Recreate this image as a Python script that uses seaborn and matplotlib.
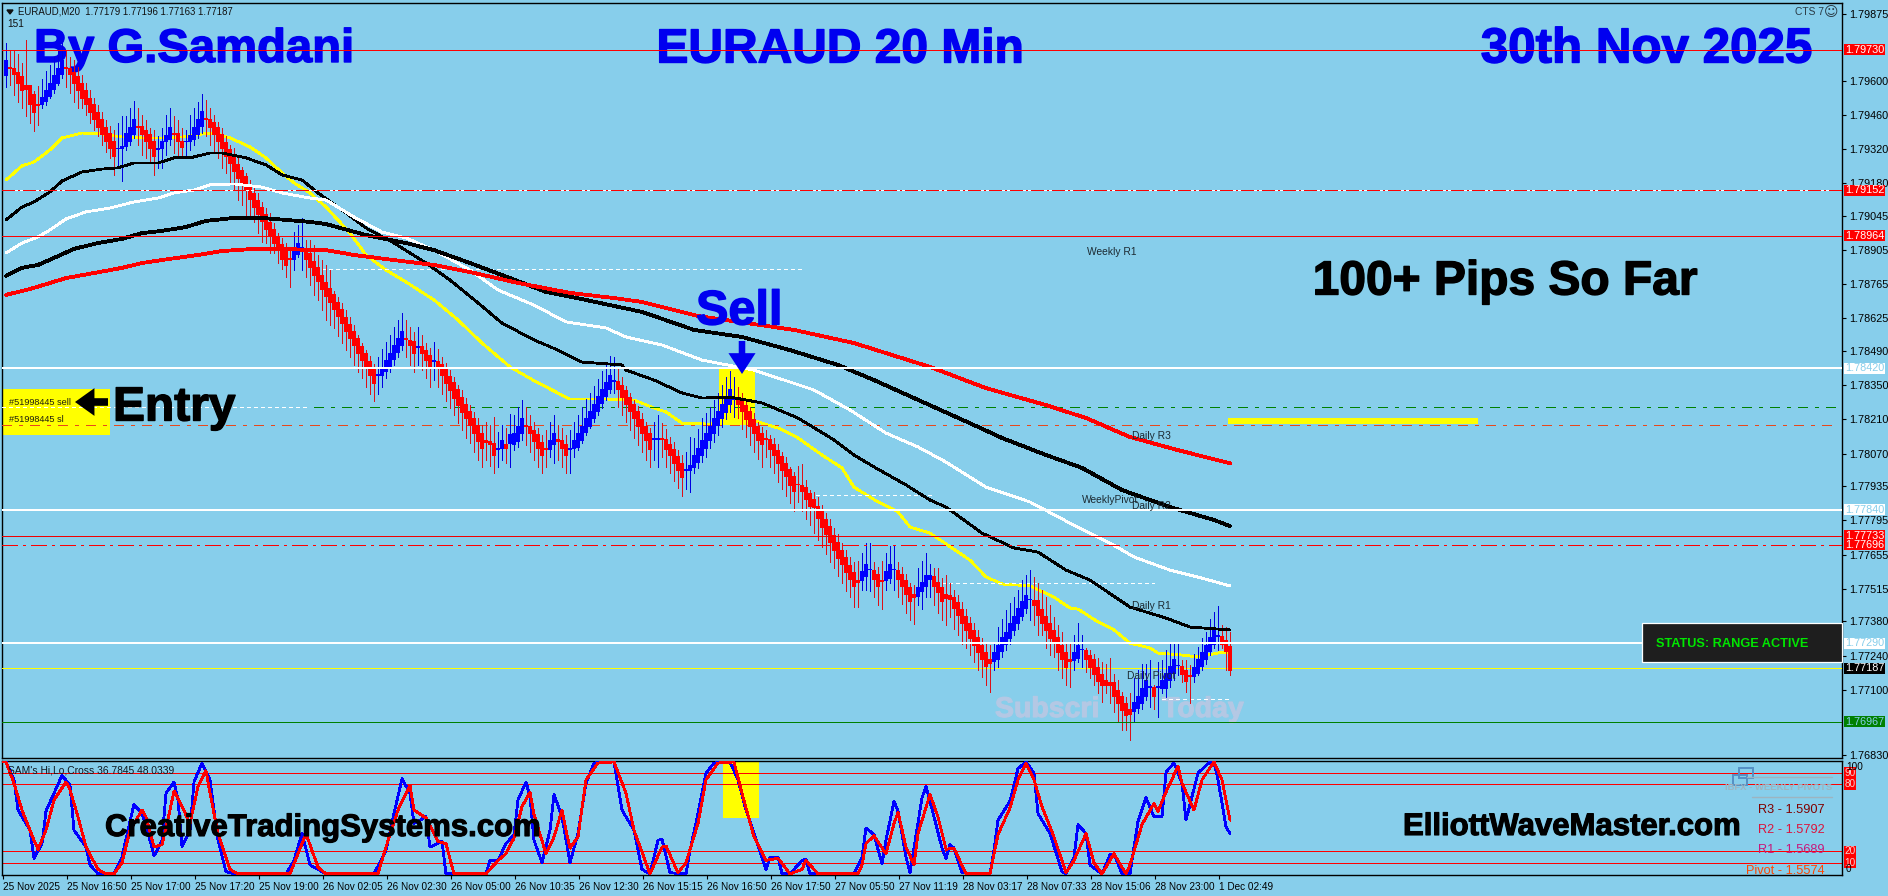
import numpy as np
import pandas as pd
import matplotlib
matplotlib.use("Agg")
import matplotlib.pyplot as plt
import matplotlib.patheffects as pe
from matplotlib.patches import Rectangle
import seaborn as sns

W, H = 1888, 896
SKY = "#87CEEB"
BASE = 1.76  # candle and average values below are points above this price

bar_open = [
    3622,3655,3653,3637,3619,3581,3581,3544,3506,3503, 3516,3537,3564,3592,3626,3655,3653,3637,3619,3592,
    3562,3530,3503,3473,3444,3411,3384,3352,3322,3325, 3331,3352,3379,3416,3413,3400,3380,3352,3320,3322,
    3352,3359,3386,3384,3352,3350,3352,3359,3379,3414, 3446,3444,3430,3410,3382,3350,3320,3289,3259,3234,
    3209,3172,3141,3111,3083,3052,3022,2991,2963,2928, 2904,2870,2868,2886,2913,2914,2893,2860,2835,2802,
    2773,2749,2723,2693,2662,2631,2602,2573,2542,2510, 2481,2450,2418,2390,2390,2406,2427,2454,2485,2513,
    2544,2534,2530,2507,2512,2496,2475,2449,2450,2437, 2420,2389,2363,2334,2301,2272,2242,2215,2185,2153,
    2125,2119,2112,2087,2089,2109,2109,2105,2119,2153, 2185,2183,2165,2150,2115,2091,2085,2105,2128,2126,
    2109,2087,2089,2093,2123,2155,2182,2214,2244,2274, 2303,2333,2366,2365,2351,2328,2301,2272,2244,2212,
    2183,2153,2127,2127,2131,2129,2109,2088,2060,2029, 2000,2000,2012,2032,2061,2091,2123,2153,2183,2212,
    2238,2272,2293,2297,2290,2269,2242,2212,2183,2153, 2131,2129,2109,2084,2060,2029,2005,1975,1945,1940,
    1931,1906,1881,1854,1831,1801,1769,1735,1703,1673, 1643,1612,1580,1550,1547,1564,1592,1591,1575,1549,
    1547,1557,1592,1591,1575,1550,1520,1492,1484,1502, 1522,1550,1564,1539,1522,1492,1488,1479,1457,1431,
    1402,1372,1342,1314,1283,1255,1224,1214,1224,1255, 1283,1310,1342,1372,1399,1431,1468,1465,1465,1431,
    1402,1372,1344,1314,1283,1251,1226,1218,1228,1263, 1262,1242,1224,1191,1163,1136,1131,1128,1098,1073,
    1043,1020,1009,1022,1043,1073,1109,1109,1109,1105, 1105,1136,1166,1197,1196,1180,1159,1152,1166,1196,
    1224,1255,1283,1318,1320,1303,1279,
]
bar_close = [
    3685,3651,3626,3592,3562,3564,3503,3471,3500,3533, 3564,3592,3626,3653,3685,3651,3626,3592,3562,3530,
    3503,3471,3444,3411,3379,3352,3322,3290,3326,3331, 3384,3411,3444,3410,3379,3352,3322,3290,3324,3352,
    3379,3411,3381,3352,3327,3354,3379,3411,3444,3475, 3441,3411,3379,3352,3322,3290,3260,3229,3199,3174,
    3149,3112,3081,3051,3023,2992,2962,2931,2903,2868, 2844,2866,2907,2934,2917,2868,2833,2800,2775,2742,
    2713,2689,2663,2633,2602,2571,2542,2513,2482,2450, 2421,2390,2358,2394,2417,2454,2482,2516,2543,2574,
    2540,2513,2482,2511,2482,2452,2422,2453,2424,2390, 2358,2328,2297,2265,2239,2212,2185,2150,2119,2089,
    2115,2108,2060,2091,2126,2089,2150,2153,2183,2215, 2181,2150,2119,2089,2060,2087,2126,2153,2119,2089,
    2060,2091,2126,2153,2183,2215,2242,2274,2304,2334, 2363,2393,2370,2331,2301,2269,2242,2212,2180,2150,
    2123,2088,2131,2131,2127,2088,2061,2029,1999,1970, 2004,2023,2061,2091,2123,2153,2183,2214,2244,2272,
    2301,2334,2297,2272,2242,2210,2180,2150,2123,2105, 2127,2088,2060,2029,1999,1975,1940,1913,1941,1913,
    1879,1851,1849,1801,1766,1735,1703,1673,1639,1612, 1580,1550,1522,1539,1584,1616,1596,1553,1522,1545,
    1584,1616,1596,1553,1522,1492,1461,1479,1522,1542, 1570,1570,1522,1498,1461,1474,1468,1431,1402,1369,
    1342,1310,1279,1251,1224,1196,1205,1251,1283,1314, 1337,1372,1402,1433,1461,1488,1472,1444,1402,1369,
    1342,1310,1294,1251,1224,1189,1214,1255,1283,1267, 1224,1191,1163,1132,1118,1118,1118,1073,1043,1013,
    995,999,1046,1073,1105,1136,1113,1070,1113,1136, 1166,1194,1224,1201,1163,1132,1155,1191,1224,1255,
    1283,1314,1344,1322,1283,1255,1177,
]
bar_high = [
    3756,3729,3726,3712,3674,3770,3585,3558,3581,3608, 3640,3667,3701,3729,3756,3729,3699,3688,3660,3626,
    3592,3564,3530,3503,3475,3441,3414,3400,3427,3455, 3458,3489,3519,3489,3462,3441,3407,3400,3373,3407,
    3462,3489,3458,3441,3407,3400,3462,3489,3516,3548, 3521,3489,3462,3434,3407,3373,3338,3325,3290,3249,
    3222,3195,3167,3140,3105,3078,3057,3016,2975,2955, 2934,2914,2982,3010,3037,2948,2948,2927,2886,2865,
    2845,2824,2739,2715,2687,2660,2632,2598,2557,2523, 2495,2471,2438,2468,2498,2527,2557,2589,2619,2646,
    2619,2591,2571,2589,2557,2526,2502,2527,2498,2468, 2441,2413,2383,2352,2331,2297,2269,2242,2215,2187,
    2201,2187,2221,2160,2187,2174,2232,2228,2262,2290, 2262,2228,2201,2174,2146,2167,2201,2228,2187,2174,
    2146,2167,2201,2228,2262,2293,2320,2347,2375,2411, 2441,2471,2468,2427,2386,2347,2320,2292,2265,2235,
    2201,2177,2201,2228,2194,2169,2139,2118,2084,2064, 2077,2139,2132,2169,2214,2235,2262,2290,2320,2351,
    2383,2410,2383,2345,2317,2287,2260,2238,2201,2180, 2166,2146,2132,2109,2077,2054,2016,1995,2018,2027,
    1961,1920,1913,1892,1858,1824,1799,1766,1739,1703, 1673,1646,1625,1629,1660,1701,1701,1625,1605,1629,
    1660,1690,1694,1625,1605,1577,1536,1529,1598,1629, 1660,1618,1598,1598,1557,1570,1536,1509,1488,1461,
    1433,1399,1372,1344,1314,1289,1283,1289,1358,1392, 1427,1454,1481,1509,1550,1570,1591,1564,1536,1509,
    1481,1447,1399,1365,1337,1296,1289,1324,1372,1324, 1269,1262,1248,1228,1214,1207,1228,1166,1139,1091,
    1070,1084,1146,1180,1207,1207,1221,1118,1214,1221, 1262,1289,1296,1296,1221,1221,1200,1248,1276,1310,
    1337,1392,1420,1443,1365,1358,1337,
]
bar_low = [
    3578,3585,3544,3516,3489,3458,3427,3397,3420,3489, 3503,3530,3551,3585,3612,3578,3551,3516,3489,3489,
    3462,3427,3400,3373,3338,3311,3284,3215,3242,3192, 3318,3338,3366,3338,3297,3284,3263,3215,3242,3242,
    3297,3338,3304,3284,3284,3284,3318,3338,3366,3386, 3373,3338,3311,3284,3242,3222,3181,3153,3112,3092,
    3051,3051,3023,2975,2941,2934,2893,2893,2852,2827, 2797,2753,2825,2879,2825,2797,2763,2721,2701,2660,
    2619,2598,2585,2553,2526,2495,2468,2434,2406,2379, 2345,2315,2287,2315,2345,2379,2406,2434,2468,2495,
    2468,2434,2406,2434,2413,2379,2345,2372,2345,2315, 2287,2256,2228,2194,2167,2132,2112,2078,2043,2016,
    2043,2019,1989,2016,2043,2030,2016,2084,2098,2126, 2105,2078,2043,2016,1989,2016,2057,2030,2043,2016,
    1989,1991,2057,2085,2112,2146,2174,2201,2228,2256, 2290,2317,2317,2260,2228,2201,2166,2132,2105,2077,
    2043,2016,2043,2016,2057,2016,1988,1958,1927,1895, 1923,1913,1988,2009,2036,2057,2091,2118,2146,2180,
    2210,2242,2221,2214,2169,2139,2105,2077,2046,2016, 2057,2016,1988,1954,1923,1895,1868,1835,1872,1835,
    1803,1776,1742,1714,1687,1657,1625,1598,1566,1536, 1506,1479,1440,1438,1509,1509,1506,1481,1447,1433,
    1509,1536,1509,1481,1451,1416,1386,1369,1447,1433, 1481,1479,1447,1416,1385,1365,1399,1351,1324,1289,
    1269,1242,1214,1180,1152,1118,1091,1180,1194,1235, 1262,1289,1324,1351,1385,1413,1388,1365,1324,1324,
    1269,1242,1235,1180,1146,1118,1111,1180,1214,1194, 1173,1146,1118,1084,1050,1084,1043,1009,968,933,
    933,892,968,1002,1022,1057,1029,1022,988,1084, 1070,1111,1139,1159,1132,1091,1043,1132,1159,1180,
    1207,1242,1269,1262,1269,1180,1159,
]

# moving averages, read at the bends only
yellow_idx = [0,4,7,11,14,19,24,29,34,39,44,49,52,56,61,65,69,72,76,80,86,90,95,100,107,113,119,126,133,141,150,157,
              162,165,169,176,184,189,193,198,204,209,212,218,223,226,231,241,245,249,256,262,266,268,273,277,281,
              286,288,294,298,304,306]
yellow_val = [3194,3252,3268,3318,3367,3387,3383,3371,3367,3367,3371,3383,3387,3367,3330,3285,3223,3182,3141,3083,2976,
              2886,2824,2775,2701,2619,2524,2426,2360,2294,2294,2290,2257,2241,2195,2191,2220,2195,2175,2134,2064,
              2011,1932,1871,1830,1768,1743,1632,1563,1534,1526,1480,1435,1431,1378,1345,1291,1271,1250,1242,1234,
              1254,1250]
black_thin_idx = [0,4,7,11,14,19,24,28,32,38,42,46,51,54,60,65,69,74,78,85,90,97,105,111,118,124,132,138,144,154,155,
                  162,169,174,181,189,198,207,212,217,225,231,235,244,252,258,265,271,281,290,296,306]
black_thin_val = [3030,3083,3104,3145,3190,3227,3239,3244,3264,3264,3285,3285,3305,3305,3285,3256,3215,3194,3141,3059,
                  2997,2935,2853,2783,2689,2606,2537,2495,2446,2434,2413,2372,2319,2298,2302,2278,2216,2126,2064,2015,
                  1941,1879,1850,1743,1682,1665,1591,1550,1439,1394,1357,1345]
white_idx = [0,4,8,11,15,20,26,32,38,42,47,51,57,64,69,76,80,87,94,100,107,116,123,132,140,150,155,164,174,187,202,211,
             220,228,235,245,256,266,276,282,291,299,306]
white_val = [2894,2935,2960,2989,3034,3063,3079,3104,3120,3141,3153,3174,3178,3165,3141,3120,3112,3042,2980,2956,2906,
             2824,2742,2680,2611,2586,2549,2516,2454,2413,2331,2249,2154,2097,2035,1932,1871,1784,1702,1645,1591,1558,
             1526]
black_idx = [0,4,8,12,17,23,29,34,39,45,50,57,64,70,76,80,90,100,107,116,126,135,145,159,172,184,196,208,217,227,242,249,
             260,269,279,291,302,306]
black_val = [2800,2833,2845,2874,2911,2935,2952,2976,2985,3001,3026,3038,3038,3030,3022,3013,2968,2935,2906,2853,2791,
             2734,2701,2652,2578,2549,2495,2434,2372,2298,2187,2134,2064,2011,1920,1850,1797,1772]
red_idx = [0,6,11,15,22,29,34,41,48,54,62,70,76,80,87,97,107,116,128,141,152,159,173,197,212,231,245,260,270,281,293,306]
red_val = [2722,2746,2771,2791,2812,2833,2853,2870,2886,2902,2911,2911,2906,2906,2886,2865,2845,2816,2771,2730,2709,2693,
           2635,2578,2524,2426,2339,2269,2216,2138,2084,2030]

# SAM's Hi,Lo,Cross window
stoch_blue_idx = [-1,0,2,3,6,7,9,10,12,14,16,17,20,21,23,27,29,31,32,34,36,37,39,40,42,43,44,46,47,49,51,53,55,57,70,72,74,
                  76,80,92,95,97,99,101,102,105,106,109,110,120,121,123,125,127,128,130,131,132,134,136,137,139,141,143,
                  145,147,152,154,157,159,161,163,164,166,170,171,173,175,177,181,183,185,187,190,191,193,194,196,199,
                  200,201,212,214,215,217,219,220,222,223,225,226,229,230,232,234,235,236,237,239,246,247,248,251,253,
                  255,257,258,261,264,265,267,268,270,271,274,276,277,279,281,282,283,285,287,289,290,292,294,295,298,
                  301,302,303,305,306]
stoch_blue_val = [100,100,84,57,39,14,27,56,72,88,79,39,24,8,0,0,15,47,62,54,30,16,30,72,82,66,24,39,82,99,84,30,2,0,0,12,
                  36,8,0,0,21,54,85,72,45,51,24,29,0,0,12,12,27,35,66,82,69,30,10,39,71,51,10,36,81,99,100,57,39,4,0,30,
                  31,1,0,21,54,90,99,100,84,57,36,4,15,15,0,0,12,13,0,0,15,41,35,9,30,65,56,15,1,68,78,51,23,14,26,23,1,
                  0,21,48,65,94,100,90,54,36,2,0,15,44,36,8,0,17,18,0,0,24,47,68,51,51,91,99,81,48,90,100,100,84,42,36]
stoch_red_idx = [-1,0,2,4,7,8,10,12,15,16,18,20,23,25,27,29,31,34,35,37,39,41,42,44,46,48,50,51,53,56,58,71,73,75,78,80,93,
                 95,98,101,102,105,108,110,112,120,123,125,127,129,131,132,135,137,139,140,141,143,145,148,152,155,157,
                 161,164,165,168,170,173,175,178,182,184,187,190,193,196,199,200,203,213,214,215,217,220,222,223,225,227,
                 228,231,233,235,237,240,246,248,251,253,255,257,259,262,265,267,270,272,274,277,280,281,284,287,288,290,
                 293,294,297,299,302,304,306]
stoch_red_val = [100,100,81,57,30,22,39,66,82,75,51,24,4,0,0,10,39,57,51,24,26,57,74,60,45,78,92,72,36,4,0,0,18,36,6,0,0,
                 24,57,79,57,50,29,27,0,0,12,18,32,60,73,53,18,33,57,39,23,33,84,99,100,72,39,0,24,25,1,10,45,84,99,100,
                 72,33,12,14,0,4,12,0,0,8,27,34,18,45,55,24,8,36,71,51,22,23,0,0,35,59,84,99,84,60,33,1,12,36,10,0,18,0,
                 8,44,63,56,73,96,81,57,84,100,84,48]

price_ticks = [1.79875,1.79600,1.79460,1.79320,1.79180,1.79045,1.78905,1.78765,1.78625,1.78490,1.78350,1.78210,1.78070,
               1.77935,1.77795,1.77655,1.77515,1.77380,1.77240,1.77100,1.76830]
time_tick_labels = ["25 Nov 2025","25 Nov 16:50","25 Nov 17:00","25 Nov 17:20","25 Nov 19:00","26 Nov 02:05",
                    "26 Nov 02:30","26 Nov 05:00","26 Nov 10:35","26 Nov 12:30","26 Nov 15:15","26 Nov 16:50",
                    "26 Nov 17:50","27 Nov 05:50","27 Nov 11:19","28 Nov 03:17","28 Nov 07:33","28 Nov 15:06",
                    "28 Nov 23:00","1 Dec 02:49"]
time_tick_idx = [-0.75 + 16 * k for k in range(len(time_tick_labels))]

sns.set_style("white")
plt.rcParams["font.family"] = ["Liberation Sans", "DejaVu Sans"]

fig = plt.figure(figsize=(W / 100, H / 100), dpi=100, facecolor=SKY)


def fx(px):
    return px / W


def fy(py):
    return 1 - py / H


ax = fig.add_axes([fx(2), fy(758), 1840 / W, 755 / H], facecolor=SKY)
ax2 = fig.add_axes([fx(2), fy(875), 1840 / W, 114 / H], facecolor=SKY)


def price(points):
    return BASE + np.asarray(points, dtype=float) / 1e5


# candles
idx = np.arange(len(bar_close))
o, c = price(bar_open), price(bar_close)
up = c >= o
body_colors = np.where(up, "#0000ff", "#ff0000")
wick_colors = np.where(up, "#0000e0", "#dc1018")
ax.vlines(idx, price(bar_low), price(bar_high), colors=wick_colors, linewidth=0.72, zorder=3, antialiased=False)
ax.bar(idx, np.abs(c - o) + 0.00003, bottom=np.minimum(o, c) - 0.000015, width=1.0, color=body_colors,
       linewidth=0, zorder=3.2, antialiased=False)

# highlight boxes under the price
ax.fill_between([178.25, 187.25], 1.78187, 1.78417, color="#ffff00", linewidth=0, zorder=1.5)
ax.fill_between([-1, 26], 1.78146, 1.78335, color="#ffff00", linewidth=0, zorder=1.5)

# moving averages
ma_styles = [
    (yellow_idx, yellow_val, "#ffff00", 1.3, 2.5),
    (black_thin_idx, black_thin_val, "#000000", 1.3, 4),
    (white_idx, white_val, "#ffffff", 1.3, 4),
    (black_idx, black_val, "#000000", 2.0, 4),
    (red_idx, red_val, "#ff0000", 2.0, 4.1),
]
for xs, ys, col, lw, z in ma_styles:
    sns.lineplot(x=xs, y=price(ys), ax=ax, color=col, linewidth=lw, zorder=z, estimator=None, errorbar=None,
                 sort=False, antialiased=False)

# horizontal levels
END = 457.5
ax.axhline(1.79730, color="#ff0000", lw=0.72, zorder=5, antialiased=False)
ax.axhline(1.79152, color="#ffffff", lw=0.72, zorder=5, antialiased=False)
ax.axhline(1.79155, color="#ff0000", lw=0.72, ls=(0, (12, 3, 2, 3)), zorder=5.1, antialiased=False)
ax.axhline(1.78964, color="#ff0000", lw=0.72, zorder=5, antialiased=False)
ax.axhline(1.78420, color="#ffffff", lw=1.3, zorder=5, antialiased=False)
ax.axhline(1.77840, color="#ffffff", lw=1.3, zorder=5, antialiased=False)
ax.axhline(1.77733, color="#f00000", lw=0.72, zorder=5, antialiased=False)
ax.axhline(1.77696, color="#ff0000", lw=0.9, ls=(0, (12, 4, 2, 4)), zorder=5, antialiased=False)
ax.axhline(1.77290, color="#ffffff", lw=1.3, zorder=5, antialiased=False)
ax.axhline(1.77187, color="#ffff00", lw=0.72, zorder=2.8, antialiased=False)
ax.axhline(1.76967, color="#008000", lw=0.72, zorder=5, antialiased=False)
ax.hlines(1.78261, 77, END, color="#008000", lw=0.72, ls=(0, (10, 7, 3, 7)), zorder=2.8, antialiased=False)
ax.hlines(1.78261, -1, 76, color="#ffffff", lw=0.72, ls=(0, (3, 3)), zorder=2.8, antialiased=False)
ax.hlines(1.78187, -1, END, color="#e8481c", lw=0.72, ls=(0, (10, 7, 3, 7)), zorder=2.8, antialiased=False)
ax.hlines(1.78202, 305.5, 368, color="#ffff00", lw=3.2, zorder=5, antialiased=False)

# short dotted white levels
for level, start, stop in [(1.78828, 79, 199), (1.77900, 202.5, 231.5), (1.77538, 234, 287), (1.77061, 289, 306.5)]:
    ax.hlines(level, start, stop, color="#ffffff", lw=0.72, ls=(0, (3, 3)), zorder=2.8, antialiased=False)

ax.set_xlim(-1, 459)
ax.set_ylim(1.768189, 1.799214)
ax.yaxis.tick_right()
ax.set_yticks(price_ticks)
ax.set_yticklabels([f"{p:.5f}" for p in price_ticks], fontsize=7.8, color="#000000")
ax.tick_params(axis="y", length=3, width=0.8, pad=2, color="#000000", right=True, left=False)
ax.set_xticks([])
ax.set_xlabel("")
ax.set_ylabel("")
for s in ax.spines.values():
    s.set_color("#000000")
    s.set_linewidth(1.0)
    s.set_visible(True)

# price tags on the right scale
tags = [
    (1.79730, "#ff0000", "#ffffff"),
    (1.79152, "#ff0000", "#ffffff"),
    (1.78964, "#ff0000", "#ffffff"),
    (1.78420, "#ffffff", SKY),
    (1.77840, "#ffffff", SKY),
    (1.77733, "#ff0000", "#ffffff"),
    (1.77696, "#ff0000", "#ffffff"),
    (1.77290, "#ffffff", SKY),
    (1.77187, "#000000", "#ffffff"),
    (1.76967, "#008000", SKY),
]
band = 5.5 / 24335
for p, bg, fg in tags:
    ax.add_patch(Rectangle((1.0011, p - band), 0.0223, 2 * band, transform=ax.get_yaxis_transform(), facecolor=bg,
                           edgecolor="none", clip_on=False, zorder=6))
    ax.text(1.0122, p, f"{p:.5f}", transform=ax.get_yaxis_transform(), ha="center", va="center", fontsize=7.8,
            color=fg, zorder=6.1)

# lower window
ax2.fill_between([179.25, 188.25], 50, 101, color="#ffff00", linewidth=0, zorder=1)
for lvl in [90, 80, 20, 10]:
    ax2.axhline(lvl, color="#ff0000", lw=0.72, zorder=2, antialiased=False)
sns.lineplot(x=stoch_blue_idx, y=stoch_blue_val, ax=ax2, color="#0000ff", linewidth=1.3, zorder=3, estimator=None,
             errorbar=None, sort=False, antialiased=False)
sns.lineplot(x=stoch_red_idx, y=stoch_red_val, ax=ax2, color="#ff0000", linewidth=1.3, zorder=3.2, estimator=None,
             errorbar=None, sort=False, antialiased=False)
ax2.set_xlim(-1, 459)
ax2.set_ylim(-1, 100.8)
ax2.set_yticks([])
ax2.set_xticks(time_tick_idx)
ax2.set_xticklabels(time_tick_labels, fontsize=7.2, ha="left", color="#000000")
ax2.tick_params(axis="x", length=3, width=0.8, pad=2, color="#000000", bottom=True)
ax2.set_xlabel("")
ax2.set_ylabel("")
for s in ax2.spines.values():
    s.set_color("#000000")
    s.set_linewidth(1.0)
    s.set_visible(True)

for lvl in [90, 80, 20, 10]:
    ax2.add_patch(Rectangle((1.0011, lvl - 5), 0.0065, 10, transform=ax2.get_yaxis_transform(), facecolor="#ff0000",
                            edgecolor="none", clip_on=False, zorder=5))
    ax2.text(1.0043, lvl, str(lvl), transform=ax2.get_yaxis_transform(), ha="center", va="center", fontsize=7.2,
             color="#f4d0d0", zorder=5.1)
fig.text(fx(1846), fy(767), "100", fontsize=7.2, va="center", color="#000000", zorder=6)
fig.text(fx(1846), fy(869), "0", fontsize=7.2, va="center", color="#000000", zorder=6)


def head(x, y, s, size, color, z=1, ha="left", va="center", stroke=1.0):
    t = ax.text(fx(x), fy(y), s, transform=fig.transFigure, fontsize=size, color=color, ha=ha, va=va,
                fontweight="bold", zorder=z, clip_on=False)
    t.set_path_effects([pe.withStroke(linewidth=stroke, foreground=color)])
    return t


# headline text, candles and levels run over it
head(34, 50, "By G.Samdani", 34, "#0000f0")
head(840, 50, "EURAUD 20 Min", 34.5, "#0000f0", ha="center")
head(1812, 50, "30th Nov 2025", 35.5, "#0000f0", ha="right")
head(1505, 282, "100+ Pips So Far", 34.5, "#000000", ha="center", z=8)
head(696, 312, "Sell", 35, "#0000f0", z=8)
head(113, 408, "Entry", 34.5, "#000000", z=8)
head(995, 710, "Subscri", 20.5, "#b4c8e4", z=1, stroke=0.8)
head(1162, 710, "Today", 20.5, "#b4c8e4", z=1, stroke=0.8)

ax.annotate("", xy=(fx(742), fy(374)), xytext=(fx(742), fy(341)), xycoords="figure fraction",
            textcoords="figure fraction", zorder=8,
            arrowprops=dict(facecolor="#0000f0", edgecolor="none", width=4.7, headwidth=19.5, headlength=15, shrink=0))
ax.annotate("", xy=(fx(75), fy(402)), xytext=(fx(108), fy(402)), xycoords="figure fraction",
            textcoords="figure fraction", zorder=8,
            arrowprops=dict(facecolor="#000000", edgecolor="none", width=5.5, headwidth=20, headlength=14, shrink=0))

# small chart text
ax.text(fx(18), fy(11), "EURAUD,M20  1.77179 1.77196 1.77163 1.77187", transform=fig.transFigure, fontsize=6.9,
        color="#101010", va="center", zorder=8)
ax.text(fx(7), fy(24), "151", transform=fig.transFigure, fontsize=7.2, color="#101010", va="center", zorder=8)
ax.fill([fx(7), fx(13), fx(10)], [fy(10), fy(10), fy(14)], transform=fig.transFigure, color="#101010", clip_on=False,
        zorder=8)
ax.text(fx(1824), fy(12), "CTS 7", transform=fig.transFigure, fontsize=7.4, color="#2a3a44", ha="right", va="center",
        zorder=8)
ax.text(fx(1831), fy(12), "\u263a", transform=fig.transFigure, fontsize=10, color="#2a3a44", ha="center", va="center",
        family="DejaVu Sans", zorder=8)
ax.text(fx(9), fy(402), "#51998445 sell", transform=fig.transFigure, fontsize=6.6, color="#202010", va="center",
        zorder=8)
ax.text(fx(9), fy(419), "#51998445 sl", transform=fig.transFigure, fontsize=6.6, color="#202010", va="center", zorder=8)

pivot_labels = [("Weekly R1", 1087, 252), ("Daily R3", 1132, 436), ("WeeklyPivot", 1082, 500), ("Daily R2", 1132, 506),
                ("Daily R1", 1132, 606), ("Daily Pivot", 1127, 676)]
for name, x, y in pivot_labels:
    ax.text(fx(x), fy(y), name, transform=fig.transFigure, fontsize=7.4, color="#1c2a32", va="center", zorder=8)

# status panel
fig.add_artist(Rectangle((fx(1642), fy(662)), 200 / W, 39 / H, transform=fig.transFigure, facecolor="#1e1e1e",
                         edgecolor="#ffffff", linewidth=0.9, zorder=4))
fig.text(fx(1656), fy(644), "STATUS: RANGE ACTIVE", fontsize=9.2, color="#00e600", va="center", fontweight="bold",
         zorder=5)

# lower window text
ax2.text(fx(8), fy(770), "SAM's Hi,Lo,Cross 36.7845 48.0339", transform=fig.transFigure, fontsize=7.4,
         color="#101820", va="center", zorder=8)
creative = ax2.text(fx(105), fy(828), "CreativeTradingSystems.com", transform=fig.transFigure, fontsize=22.4,
                    color="#000000", va="center", fontweight="bold", zorder=8)
elliott = ax2.text(fx(1741), fy(827), "ElliottWaveMaster.com", transform=fig.transFigure, fontsize=22.4,
                   color="#000000", ha="right", va="center", fontweight="bold", zorder=8)
for t in (creative, elliott):
    t.set_path_effects([pe.withStroke(linewidth=0.8, foreground="#000000")])

for bx, by in [(1739, 768), (1733, 775)]:
    ax2.add_patch(Rectangle((fx(bx), fy(by + 10)), 14 / W, 10 / H, transform=fig.transFigure, facecolor="none",
                            edgecolor="#5590c4", linewidth=1.4, clip_on=False, zorder=7))
ax2.plot([fx(1747), fx(1832)], [fy(777), fy(777)], transform=fig.transFigure, color="#9db4c0", lw=1, clip_on=False,
         zorder=7)
ax2.plot([fx(1752), fx(1832)], [fy(797), fy(797)], transform=fig.transFigure, color="#9db4c0", lw=1, clip_on=False,
         zorder=7)
ax2.text(fx(1832), fy(787), "IBFX - WEEKLY PIVOTS", transform=fig.transFigure, fontsize=6.8, color="#9db4c0",
         ha="right", va="center", fontweight="bold", zorder=7)
weekly = [("R3 - 1.5907", "#800000", 810), ("R2 - 1.5792", "#dc143c", 830), ("R1 - 1.5689", "#c8187a", 850),
          ("Pivot - 1.5574", "#ff4500", 871)]
for s, col, y in weekly:
    ax2.text(fx(1825), fy(y), s, transform=fig.transFigure, fontsize=9.2, color=col, ha="right", va="center", zorder=7)

fig.savefig("out.png", dpi=100, facecolor=SKY)
